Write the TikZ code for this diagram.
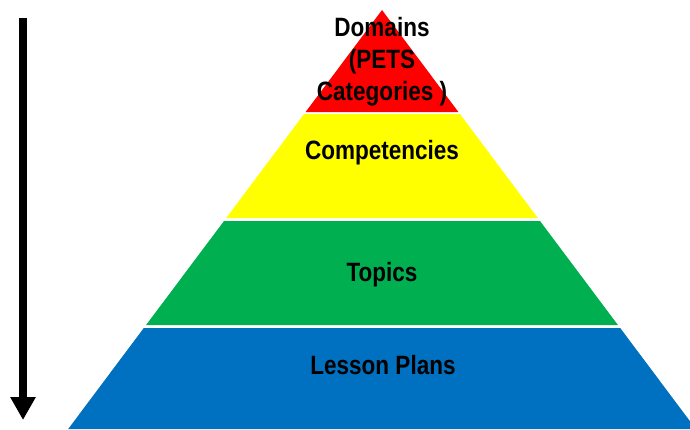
\documentclass[tikz,border=0pt]{standalone}
\usepackage{fontspec}
\setmainfont{Liberation Sans}[FakeStretch=0.85]
\usetikzlibrary{arrows.meta}

\definecolor{layerred}{HTML}{FF0000}
\definecolor{layeryellow}{HTML}{FFFF00}
\definecolor{layergreen}{HTML}{00B050}
\definecolor{layerblue}{HTML}{0070C0}

\begin{document}
\begin{tikzpicture}[x=1pt, y=-1pt,
    layertext/.style={anchor=base, inner sep=0pt, align=center,
        font=\fontsize{26.5}{32}\selectfont\bfseries}]
    \clip (0, 0) rectangle (690, 429);

    % pyramid layers, apex at (382, 10)
    \fill [layerred] (382, 10) -- (458.4, 112) -- (305.6, 112) -- cycle;
    \fill [layeryellow] (304.1, 114) -- (459.9, 114) -- (537.8, 218) -- (226.2, 218) -- cycle;
    \fill [layergreen] (224.0, 221) -- (540.0, 221) -- (617.9, 325) -- (146.1, 325) -- cycle;
    \fill [layerblue] (143.8, 328) -- (620.2, 328) -- (695.8, 429) -- (68.2, 429) -- cycle;

    % arrow at the left
    \coordinate (arrowtop) at (23, 18);
    \coordinate (arrowtip) at (23, 420);
    \draw [line width=8pt, -{Triangle[width=24pt, length=23pt]}] (arrowtop) -- (arrowtip);

    % base of a multi-line node is its last line
    \node (domains) at (382, 100) [layertext] {Domains\\(PETS\\Categories )};
    \node (competencies) at (382, 159) [layertext] {Competencies};
    \node (topics) at (382, 281) [layertext] {Topics};
    \node (lessonplans) at (383, 374) [layertext] {Lesson Plans};
\end{tikzpicture}
\end{document}
